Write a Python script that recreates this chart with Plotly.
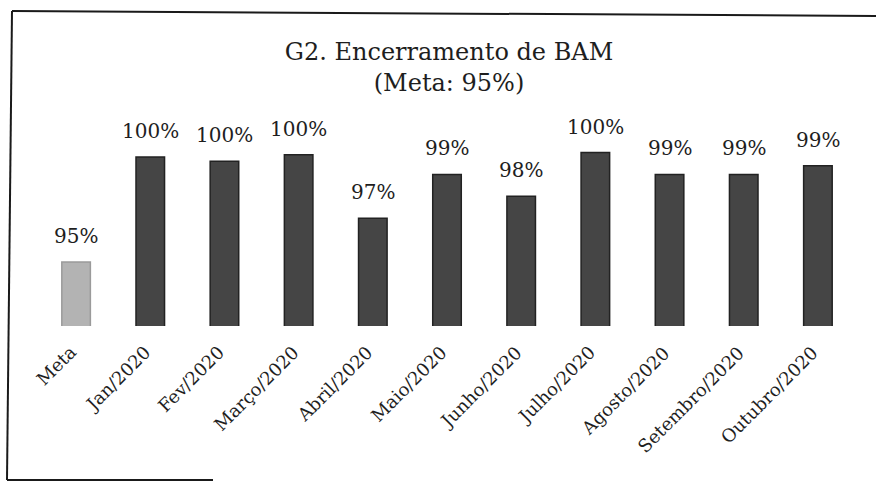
import plotly.graph_objects as go

categories = ["Meta", "Jan/2020", "Fev/2020", "Março/2020", "Abril/2020", "Maio/2020",
              "Junho/2020", "Julho/2020", "Agosto/2020", "Setembro/2020", "Outubro/2020"]
values = [95.0, 99.8, 99.6, 99.9, 97.0, 99.0, 98.0, 100.0, 99.0, 99.0, 99.4]
value_labels = ["95%", "100%", "100%", "100%", "97%", "99%", "98%", "100%", "99%", "99%", "99%"]
bar_colors = ["#b3b3b3"] + ["#454545"] * 10
line_colors = ["#9a9a9a"] + ["#222222"] * 10

W, H = 876, 481
ML, MR, MT, MB = 39, 21, 100, 155
PW, PH = W - ML - MR, H - MT - MB

def px(x):
    return (x - ML) / PW

def py(y):
    return (H - MB - y) / PH

FONT = "DejaVu Serif"
TXT = "#1e1e1e"

fig = go.Figure(go.Bar(
    x=categories, y=values,
    marker=dict(color=bar_colors, line=dict(color=line_colors, width=1.5)),
    width=0.385,
    hoverinfo="x+y",
))

# value labels above bars
for c, v, t in zip(categories, values, value_labels):
    fig.add_annotation(x=c, y=v, text=t, showarrow=False, xanchor="center",
                       yanchor="bottom", yshift=12,
                       font=dict(family=FONT, size=20, color=TXT))

# rotated category labels
for c in categories:
    fig.add_annotation(x=c, y=py(339), yref="paper", text=c, showarrow=False,
                       textangle=-45, xanchor="right", yanchor="top", xshift=7,
                       font=dict(family=FONT, size=18, color=TXT))

frame = dict(color="#1a1a1a", width=2)
fig.add_shape(type="line", xref="paper", yref="paper",
              x0=px(12), y0=py(11), x1=px(7), y1=py(480), line=frame)
fig.add_shape(type="line", xref="paper", yref="paper",
              x0=px(12), y0=py(11), x1=px(876), y1=py(16), line=frame)
fig.add_shape(type="line", xref="paper", yref="paper",
              x0=px(7), y0=py(480), x1=px(213), y1=py(480), line=frame)

fig.update_layout(
    width=W, height=H,
    margin=dict(l=ML, r=MR, t=MT, b=MB, autoexpand=False),
    paper_bgcolor="white", plot_bgcolor="white",
    title=dict(text="G2. Encerramento de BAM<br>(Meta: 95%)",
               x=449 / W, xanchor="center", xref="container",
               y=1 - 60 / H, yanchor="top", yref="container",
               font=dict(family=FONT, size=24, color=TXT)),
    xaxis=dict(range=[-0.5, len(categories) - 0.5], showticklabels=False,
               showline=False, ticks="", showgrid=False),
    yaxis=dict(range=[92.08, 102.4], visible=False, showgrid=False),
    showlegend=False,
)

fig.write_html("out.html", config={"displayModeBar": False},
               post_script="document.body.style.margin='0';document.body.style.overflow='hidden';")
